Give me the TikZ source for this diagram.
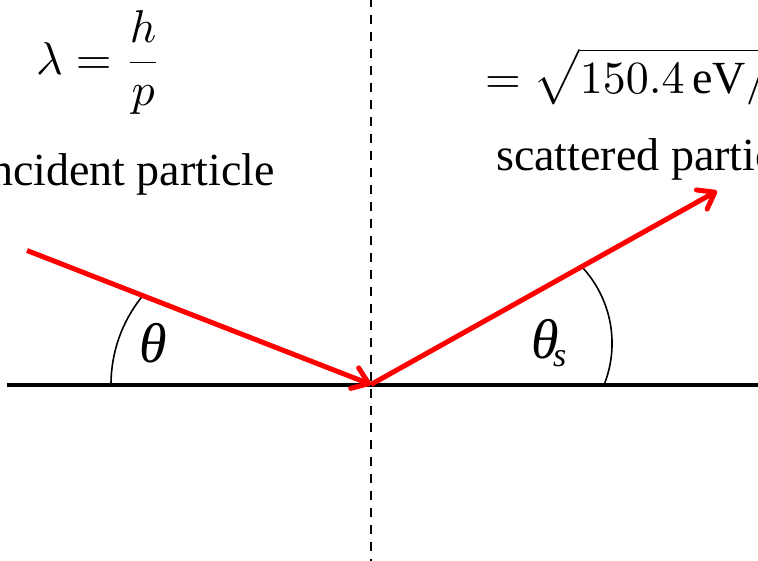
\documentclass[tikz,border=0pt]{standalone}
\usepackage{graphicx}
\usepackage{fontspec}
\setmainfont{Liberation Serif}
\usetikzlibrary{arrows.meta}
\tikzset{
  ray/.style={draw=red, line width=5pt, -{Straight Barb[length=15pt,width=22pt,line cap=round,line join=round]}},
  anglearc/.style={draw=black, line width=1.6pt},
  lbl/.style={inner sep=0pt, anchor=base west},
}
\begin{document}
\begin{tikzpicture}[x=1pt,y=1pt]
\useasboundingbox (0,0) rectangle (758,-560);
\clip (0,0) rectangle (758,-560);
% points
\coordinate (O) at (371,-384.5);
\coordinate (S) at (27,-250.5);
\coordinate (E) at (717,-191);
\coordinate (L) at (7,-384.5);
\coordinate (R) at (760,-384.5);
\coordinate (T) at (371,2);
\coordinate (B) at (371,-562);
% surface and normal
\draw[line width=4pt] (L) -- (R);
\draw[line width=2.6pt, dash pattern=on 9pt off 8pt] (T) -- (B);
% angle arcs
\draw[anglearc] (111,-384.5) arc[start angle=180, end angle=141, radius=140];
\draw[anglearc] (604.4,-384) arc[start angle=-21.3, end angle=43.2, radius=112];
% rays
\draw[ray] (S) -- (O);
\draw[ray] (O) -- (E);
% labels
\node[lbl] (f1) at (36,-74) {\scalebox{4.6}{\fontsize{10}{12}\selectfont $\displaystyle\lambda=\frac{h}{p}$}};
\node[lbl] (f2) at (485,-93) {\scalebox{4.6}{\fontsize{10}{12}\selectfont $\displaystyle=\sqrt{150.4\,\mathrm{eV}/E}$}};
\node[inner sep=0pt, anchor=base east] (inc) at (275,-185) {\fontsize{46}{55}\selectfont incident particle};
\node[lbl] (sca) at (496,-170) {\fontsize{46}{55}\selectfont scattered particle};
\node[lbl] (th) at (139,-362) {\fontsize{56}{60}\selectfont\itshape θ};
\node[lbl] (ths) at (531,-358) {\fontsize{56}{60}\selectfont\itshape θ};
\node[lbl] (s) at (553,-366) {\fontsize{34}{40}\selectfont\itshape s};
\end{tikzpicture}
\end{document}
